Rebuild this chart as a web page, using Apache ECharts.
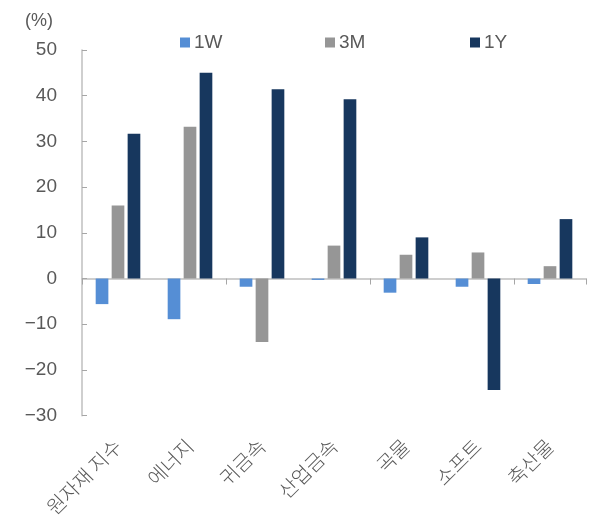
<!DOCTYPE html>
<html>
<head>
<meta charset="utf-8">
<script src="https://cdn.jsdelivr.net/npm/echarts@6/dist/echarts.min.js"></script>
<style>
  html, body { margin: 0; padding: 0; background: #fff; }
  #main { width: 597px; height: 520px; }
</style>
</head>
<body>
<div id="main"></div>
<script>
// 카테고리 / 시리즈 값
var categories = ['원자재 지수', '에너지', '귀금속', '산업금속', '곡물', '소프트', '축산물'];
var w1 = [-5.6, -8.9, -1.8, -0.3, -3.1, -1.8, -1.2];
var m3 = [16.0, 33.2, -13.9, 7.2, 5.2, 5.7, 2.7];
var y1 = [31.7, 45.0, 41.4, 39.2, 9.0, -24.4, 13.0];
var seriesNames = ['1W', '3M', '1Y'];

var font = '"Liberation Sans", "Noto Sans CJK KR", sans-serif';
var txt = '#595959';

// 범례는 항목별로 따로 배치 (간격 고정)
function legendAt(name, left) {
	return {
		top : 28,
		left : left,
		itemWidth : 10,
		itemHeight : 10,
		icon : 'rect',
		textStyle : { color : txt, fontSize : 19, fontFamily : font, padding : [0, 0, 0, -1] },
		data : [ name ]
	};
}

var myChart = echarts.init(document.getElementById('main'));
var option = {
	animation : false,
	color : [ '#558ED5', '#969696', '#17375E' ],
	title : {
		text : '(%)',
		left : 20,
		top : 7,
		textStyle : { color : txt, fontSize : 18, fontWeight : 'normal', fontFamily : font }
	},
	legend : [ legendAt(seriesNames[0], 175), legendAt(seriesNames[1], 320), legendAt(seriesNames[2], 465) ],
	grid : { left : 82, right : 11, top : 50, bottom : 103.5 },
	xAxis : [ {
		type : 'category',
		data : categories,
		axisLine : { onZero : true, lineStyle : { color : '#BFBFBF', width : 1.5 } },
		axisTick : { show : true, length : 6, lineStyle : { color : '#A6A6A6' } },
		axisLabel : { show : false }
	}, {
		// 아래쪽 라벨 전용 축
		type : 'category',
		position : 'bottom',
		data : categories,
		axisLine : { show : false },
		axisTick : { show : false },
		axisLabel : {
			rotate : 45,
			margin : 27,
			color : txt,
			fontSize : 20,
			fontWeight : 300,
			fontFamily : '"Noto Sans CJK KR", sans-serif'
		}
	} ],
	yAxis : {
		type : 'value',
		min : -30,
		max : 50,
		interval : 10,
		splitLine : { show : false },
		axisLine : { show : true, lineStyle : { color : '#BFBFBF', width : 1.5 } },
		axisTick : { show : true, inside : true, length : 5, lineStyle : { color : '#A6A6A6' } },
		axisLabel : {
			margin : 25,
			color : txt,
			fontSize : 19,
			fontFamily : font,
			formatter : function(v) {
				return v < 0 ? '\u2212' + Math.abs(v) : String(v);
			}
		}
	},
	series : [ {
		name : seriesNames[0],
		type : 'bar',
		data : w1,
		barGap : '26%',
		barCategoryGap : '38%'
	}, {
		name : seriesNames[1],
		type : 'bar',
		data : m3,
		barGap : '26%',
		barCategoryGap : '38%'
	}, {
		name : seriesNames[2],
		type : 'bar',
		data : y1,
		barGap : '26%',
		barCategoryGap : '38%'
	} ]
};
myChart.setOption(option);
</script>
</body>
</html>
